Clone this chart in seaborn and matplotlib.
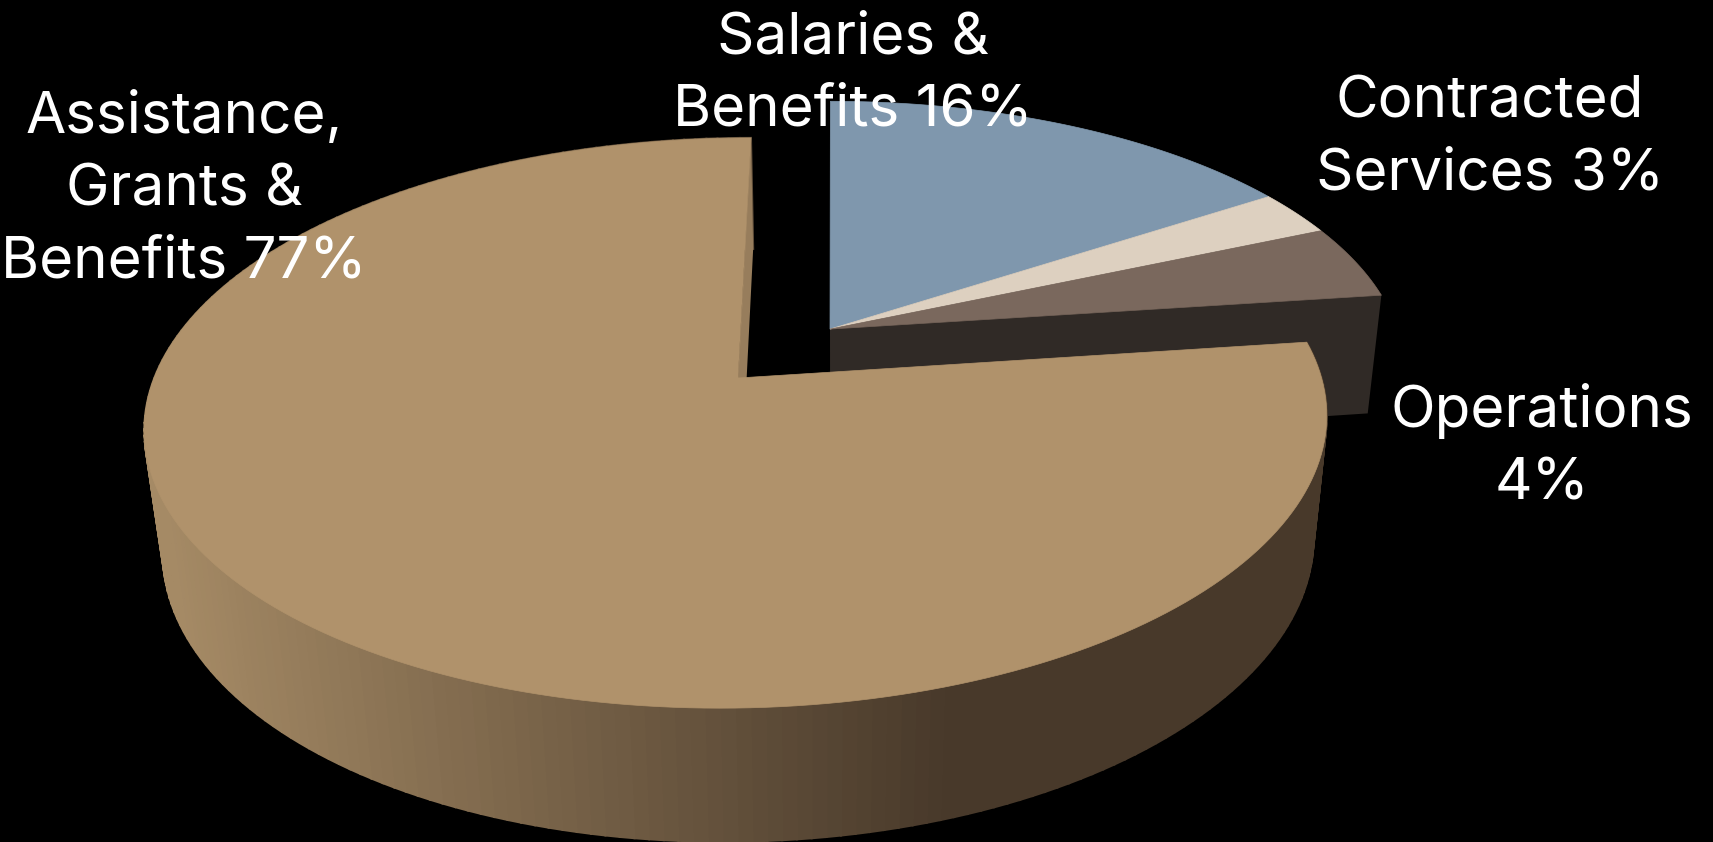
import numpy as np
import matplotlib
matplotlib.use("Agg")
import matplotlib.pyplot as plt
import seaborn as sns

# pie data, clockwise from 12 o'clock
categories = ["Salaries &\nBenefits", "Contracted\nServices", "Operations", "Assistance,\nGrants &\nBenefits"]
values = [15.8, 2.7, 4.4, 77.1]
label_breaks = [" ", " ", "\n", " "]
colors = ["#7f97ad", "#ddd0c0", "#7a685d", "#b0926b"]
exploded = [True, True, True, False]

# label layout: centre x and first baseline in pixels
label_x = [853, 1490, 1542, 184]
label_y = [54, 118, 427, 133]

W, H = 1713, 842
apex_x, apex_y = 738, 378

# perspective of the disc
A, B, SHEAR, K = 583.6, 278.0, 15.0, 0.158
DEPTH, DEPTH_W, DEPTH_X = 125.0, 0.027, 2.5
SHIFT_U, SHIFT_V = 0.1575, 0.181


def project(u, v, z=0.0):
    w = 1 + K * v + DEPTH_W * z
    x = apex_x + (A * u + SHEAR * v) / w + DEPTH_X * z
    y = apex_y - (B * v - DEPTH * z) / w
    return x, y


def rim(start, end, n=160):
    t = np.radians(np.linspace(start, end, n))
    return np.sin(t), np.cos(t)


sns.set_theme(style="dark", rc={"axes.facecolor": "black", "figure.facecolor": "black"})
plt.rcParams["font.family"] = ["Inter", "DejaVu Sans"]

fig, ax = plt.subplots(figsize=(W / 100, H / 100), dpi=100)
fig.subplots_adjust(0, 0, 1, 1)
ax.set_xlim(0, W)
ax.set_ylim(H, 0)
ax.axis("off")

angles = np.cumsum([0] + values) * 3.6

# exploded slices: the cut wall first, then the tops
last = max(i for i, e in enumerate(exploded) if e)
u, v = rim(angles[last + 1], angles[last + 1], 1)
wall_u = np.array([0, u[0], u[0], 0]) + SHIFT_U
wall_v = np.array([0, v[0], v[0], 0]) + SHIFT_V
wx, wy = project(wall_u, wall_v, np.array([0, 0, 1, 1]))
ax.fill(wx, wy, color="#302a26", lw=0)

for i, value in enumerate(values):
    if not exploded[i]:
        continue
    u, v = rim(angles[i], angles[i + 1])
    x, y = project(np.r_[0, u] + SHIFT_U, np.r_[0, v] + SHIFT_V)
    ax.fill(x, y, color=colors[i], lw=0.5)

# main slice: outer side with a left to right shade
i_main = exploded.index(False)
shade = sns.blend_palette(["#a58a65", "#48392a"], 200)
u, v = rim(angles[i_main], angles[i_main + 1], 220)
for j in range(len(u) - 1):
    xt, yt = project(u[j:j + 2], v[j:j + 2])
    xb, yb = project(u[j:j + 2], v[j:j + 2], 1.0)
    pos = (xt.mean() - 160) / (950 - 160)
    col = shade[int(np.clip(pos, 0, 0.999) * 200)]
    ax.fill(np.r_[xt, xb[::-1]], np.r_[yt, yb[::-1]], color=col, ec=col, lw=1.5)

# cut wall at the start of the notch
u0, v0 = rim(angles[i_main + 1], angles[i_main + 1], 1)
wx, wy = project(np.array([0, u0[0], u0[0], 0]), np.array([0, v0[0], v0[0], 0]), np.array([0, 0, 1, 1]))
ax.fill(wx, wy, color="#977d5c", lw=0)

x, y = project(np.r_[0, u], np.r_[0, v])
ax.fill(x, y, color=colors[i_main], lw=0.5)

# labels
for i, name in enumerate(categories):
    text = f"{name}{label_breaks[i]}{round(values[i])}%"
    for n, line in enumerate(text.split("\n")):
        ax.text(label_x[i], label_y[i] + 72 * n, line, color="white", fontsize=42,
                ha="center", va="baseline")

fig.savefig("out.png", dpi=100, facecolor="black")
